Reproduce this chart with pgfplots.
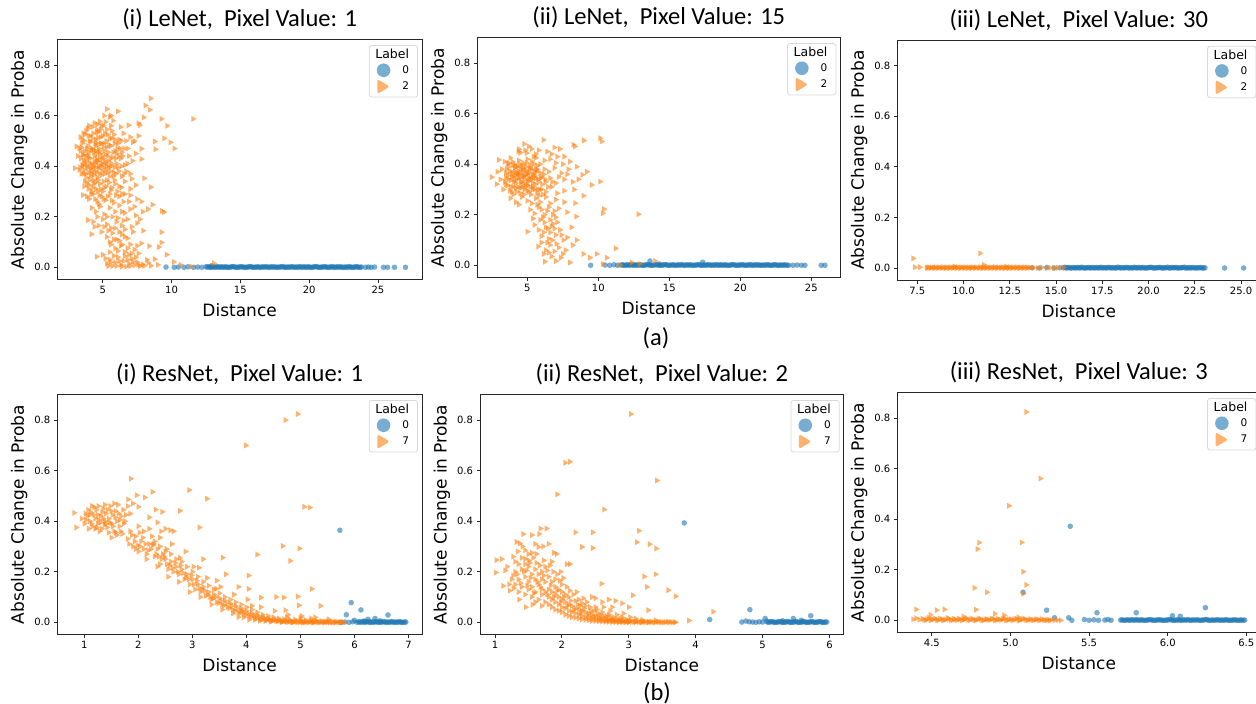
\documentclass[border=0pt]{standalone}
\usepackage{pgfplots}
\pgfplotsset{compat=1.18}
\usepackage{fontspec}
\setmainfont{DejaVu Sans}
\newfontfamily\calib{Carlito}
\definecolor{tabblue}{HTML}{1F77B4}
\definecolor{taborange}{HTML}{FF7F0E}

\pgfplotsset{
  panel/.style={
    scale only axis, height=239.5pt, anchor=south west,
    ymin=-0.0475, ymax=0.9,
    ytick={0,0.2,0.4,0.6,0.8}, yticklabels={0.0,0.2,0.4,0.6,0.8},
    tick align=outside, tick pos=left, major tick length=3.5pt,
    tick style={black!85, line width=0.8pt},
    axis line style={black!85, line width=1pt},
    ticklabel style={font=\fontsize{10}{12}\selectfont},
    xlabel={Distance}, ylabel={Absolute Change in Proba},
    label style={font=\fontsize{17}{20}\selectfont},
    xlabel style={yshift=-3pt},
    title style={font=\calib\fontsize{24.5}{28}\selectfont},
    legend cell align=right,
    legend style={at={(0.989,0.978)}, anchor=north east, draw=black!15,
      line width=0.8pt, rounded corners=2.5pt, fill=white, fill opacity=0.8,
      text opacity=1, font=\fontsize{10.5}{12}\selectfont,
      inner xsep=7.5pt, inner ysep=3pt, row sep=2pt, column sep=5pt,
      nodes={inner sep=1pt}},
  },
  blu/.style={only marks, mark=*, mark size=2.8pt,
    mark options={fill=tabblue, draw opacity=0, fill opacity=0.6},
    legend image code/.code={\path[fill=tabblue, fill opacity=0.6, draw=none] (6.8pt,0pt) circle (6.8pt);}},
  org/.style={only marks, mark=triangle*, mark size=3.5pt,
    mark options={rotate=-90, fill=taborange, draw opacity=0, fill opacity=0.6},
    legend image code/.code={\path[fill=taborange, fill opacity=0.6, draw=none] (0.5pt,-7.5pt) -- (13pt,0pt) -- (0.5pt,7.5pt) -- cycle;}},
}
\newcommand\labtitle{\addlegendimage{empty legend}\addlegendentry{\fontsize{12.5}{14}\selectfont\hspace*{-21pt}Label}}

\begin{document}
\begin{tikzpicture}
\path[use as bounding box] (0pt,0pt) rectangle (1256pt,-704pt);

% ---------------- (a) LeNet ----------------
\begin{axis}[panel, at={(57.3pt,-279.3pt)}, width=364.7pt, xmin=1.7, xmax=28.2,
  xtick={5,10,15,20,25}, xticklabels={5,10,15,20,25},
  title={(i) LeNet,\ \ Pixel Value: 1}]
\labtitle
\addplot[blu] coordinates {
(9.6,0.001)(10.2,0.0)(10.5,0.001)(10.9,0.0)(11.2,0.002)(11.6,0.0)(11.9,0.001)(12.2,0.0)(12.5,0.002)(12.9,0.006)
(12.6,0.001)(12.8,0)(13.0,0.002)(13.2,0)(13.4,0.001)(13.6,0.002)(13.8,0)(14.0,0.001)(14.2,0)(14.4,0.002)
(14.6,0.001)(14.8,0)(15.0,0.002)(15.2,0.001)(15.4,0)(15.6,0.001)(15.8,0.002)(16.0,0)(16.2,0.001)(16.4,0)
(16.6,0.002)(16.8,0.001)(17.0,0)(17.2,0.002)(17.4,0.001)(17.6,0)(17.8,0.001)(18.0,0.002)(18.2,0)(18.4,0.001)
(18.6,0)(18.8,0.002)(19.0,0.001)(19.2,0)(19.4,0.001)(19.6,0.002)(19.8,0)(20.0,0.001)(20.2,0)(20.4,0.002)
(20.6,0.001)(20.8,0)(21.0,0.001)(21.2,0.002)(21.4,0)(21.6,0.001)(21.8,0)(22.0,0.002)(22.2,0.001)(22.4,0)
(22.6,0.001)(22.8,0)(23.0,0.001)(23.2,0)(23.4,0.002)(23.6,0)(23.8,0.001)
(12.7,0.002)(12.9,0)(13.1,0.001)(13.3,0.003)(13.5,0)(13.7,0.001)(13.9,0.002)(14.1,0)(14.3,0.001)(14.5,0.003)
(14.7,0)(14.9,0.001)(15.1,0.002)(15.3,0)(15.5,0.001)(15.7,0.003)(15.9,0)(16.1,0.001)(16.3,0.002)(16.5,0)
(16.7,0.001)(16.9,0.003)(17.1,0)(17.3,0.001)(17.5,0.002)(17.7,0)(17.9,0.001)(18.1,0.003)(18.3,0)(18.5,0.001)
(18.7,0.002)(18.9,0)(19.1,0.001)(19.3,0.003)(19.5,0)(19.7,0.001)(19.9,0.002)(20.1,0)(20.3,0.001)(20.5,0.003)
(20.7,0)(20.9,0.001)(21.1,0.002)(21.3,0)(21.5,0.001)(21.7,0.003)(21.9,0)(22.1,0.001)(22.3,0.002)(22.5,0)
(22.7,0.001)(22.9,0.003)(23.1,0)(23.3,0.001)(23.5,0.002)(23.7,0)
(24.1,0.0)(24.3,0.001)(24.5,0.0)(24.75,0.001)(25.4,0.0)(25.7,0.0)(26.2,0.0)(27.0,0.0)
};
\addlegendentry{0}
\addplot[org] coordinates {
(5.3,0.626)(5.5,0.595)(6.1,0.617)(8.1,0.64)(8.42,0.623)(8.49,0.668)(7.98,0.593)(11.57,0.587)(9.26,0.587)(5.1,0.6)(5.6,0.6)
(4.78,0.577)(4.6,0.565)(4.9,0.56)(5.2,0.575)(4.4,0.57)(6.87,0.562)(7.69,0.562)(7.6,0.57)(9.68,0.56)(5.75,0.58)(6.3,0.555)(4.59,0.544)(3.9,0.55)
(3.38,0.515)(3.6,0.53)(3.8,0.54)(4.1,0.52)(4.3,0.53)(4.7,0.535)(5.0,0.52)(5.3,0.545)(5.5,0.51)(5.8,0.525)(6.2,0.505)(6.5,0.53)(7.0,0.515)(7.3,0.5)(7.6,0.52)(9.46,0.51)(9.92,0.494)(8.78,0.498)(4.5,0.505)(3.5,0.505)
(3.09,0.478)(3.3,0.47)(3.5,0.49)(3.7,0.46)(3.9,0.48)(4.1,0.495)(4.3,0.465)(4.5,0.48)(4.7,0.47)(4.9,0.49)(5.1,0.46)(5.3,0.475)(5.6,0.48)(5.9,0.46)(6.1,0.49)(6.4,0.455)(6.8,0.47)(7.2,0.495)(7.81,0.469)(8.83,0.467)(10.2,0.47)(4.0,0.455)(4.6,0.45)(5.4,0.455)
(3.2,0.44)(3.4,0.43)(3.6,0.445)(3.8,0.42)(4.0,0.435)(4.2,0.41)(4.4,0.44)(4.6,0.42)(4.8,0.43)(5.0,0.41)(5.2,0.445)(5.4,0.42)(5.7,0.435)(6.0,0.41)(6.3,0.43)(6.6,0.405)(7.16,0.421)(7.81,0.428)(3.5,0.405)(4.3,0.4)(5.6,0.4)
(2.97,0.392)(3.3,0.385)(3.6,0.37)(3.9,0.395)(4.1,0.36)(4.4,0.38)(4.7,0.39)(4.9,0.365)(5.2,0.385)(5.5,0.36)(5.8,0.375)(6.1,0.395)(6.4,0.36)(6.7,0.38)(7.0,0.37)(8.0,0.352)(4.6,0.355)(3.8,0.355)
(3.7,0.34)(4.0,0.325)(4.3,0.345)(4.5,0.31)(4.8,0.33)(5.1,0.315)(5.3,0.345)(5.6,0.305)(5.9,0.33)(6.2,0.32)(6.6,0.34)(7.0,0.31)(7.4,0.325)(8.49,0.317)(4.2,0.3)(5.0,0.3)
(3.55,0.286)(4.0,0.27)(4.3,0.29)(4.6,0.26)(4.9,0.28)(5.2,0.265)(5.5,0.29)(5.8,0.255)(6.2,0.28)(6.5,0.26)(7.0,0.285)(7.5,0.27)(7.8,0.26)(8.61,0.248)(4.7,0.25)
(4.2,0.235)(4.5,0.22)(4.8,0.24)(5.1,0.21)(5.5,0.235)(5.9,0.22)(6.2,0.245)(6.6,0.215)(7.0,0.23)(7.4,0.205)(7.9,0.22)(8.29,0.23)(9.29,0.223)(9.45,0.218)(5.3,0.2)
(3.93,0.187)(4.3,0.18)(4.7,0.165)(5.0,0.19)(5.3,0.17)(5.6,0.155)(6.0,0.18)(6.4,0.165)(6.8,0.19)(7.1,0.16)(7.5,0.175)(6.6,0.15)
(4.18,0.131)(4.9,0.14)(5.3,0.12)(5.7,0.135)(6.0,0.11)(6.4,0.13)(6.8,0.115)(7.2,0.14)(7.93,0.145)(9.26,0.139)(5.5,0.1)(6.2,0.105)
(5.6,0.09)(5.9,0.075)(6.3,0.085)(6.6,0.06)(7.0,0.09)(7.3,0.07)(7.6,0.055)(8.37,0.084)(9.26,0.098)(9.07,0.08)(6.9,0.05)(7.8,0.095)(9.65,0.05)
(4.56,0.042)(5.3,0.015)(5.5,0.03)(5.7,0.005)(5.9,0.02)(6.1,0.04)(6.3,0.01)(6.5,0.025)(6.7,0.003)(6.9,0.015)(7.1,0.035)(7.3,0.008)(7.5,0.02)(7.7,0.004)(7.9,0.012)(8.2,0.03)(8.5,0.006)(8.78,0.032)(9.0,0.01)(10.16,0.021)(10.67,0.009)(11.44,0.003)(13.07,0.016)(5.8,0.045)(6.6,0.045)(7.4,0.04)
(4.2,0.47)(4.5,0.46)(4.8,0.45)(4.4,0.42)(4.7,0.4)(5.0,0.43)(4.1,0.39)(4.5,0.395)(4.9,0.41)(3.7,0.41)(3.9,0.445)(4.6,0.49)(5.3,0.4)(4.2,0.37)(5.1,0.49)(3.4,0.46)(3.6,0.42)(4.05,0.5)(4.85,0.515)(5.15,0.53)(5.6,0.56)(5.9,0.505)(6.0,0.45)(6.25,0.47)(6.45,0.44)(4.35,0.33)(4.65,0.3)(3.95,0.31)
(3.45,0.475)(3.55,0.445)(3.65,0.5)(3.75,0.435)(3.85,0.47)(3.95,0.52)(4.05,0.43)(4.15,0.465)(4.25,0.51)(4.35,0.455)(4.45,0.49)(4.55,0.43)(4.65,0.515)(4.75,0.46)(4.85,0.49)(4.95,0.44)(5.05,0.475)(5.15,0.42)(5.25,0.5)(5.35,0.44)(5.45,0.485)(5.55,0.43)(5.65,0.51)(5.75,0.455)(5.85,0.49)(5.95,0.43)(6.05,0.47)(6.15,0.44)(6.35,0.5)(6.55,0.47)
(3.35,0.395)(3.45,0.37)(3.55,0.4)(3.65,0.385)(3.75,0.37)(3.85,0.4)(3.95,0.375)(4.05,0.41)(4.15,0.38)(4.25,0.395)(4.35,0.365)(4.45,0.41)(4.55,0.375)(4.65,0.42)(4.75,0.37)(4.85,0.4)(4.95,0.38)(5.05,0.395)(5.15,0.37)(5.25,0.41)(5.35,0.375)(5.45,0.395)(5.55,0.38)(5.65,0.41)(5.75,0.36)(5.85,0.395)(5.95,0.37)(6.15,0.38)(6.35,0.4)(6.55,0.37)
(3.65,0.32)(3.85,0.33)(4.05,0.345)(4.25,0.315)(4.45,0.335)(4.65,0.345)(4.85,0.31)(5.05,0.34)(5.25,0.32)(5.45,0.335)(5.65,0.315)(5.85,0.345)(6.05,0.3)(6.35,0.315)(3.85,0.28)(4.15,0.29)(4.45,0.27)(4.75,0.285)(5.05,0.27)(5.35,0.28)(5.65,0.265)(5.95,0.285)(6.4,0.29)
(4.25,0.555)(4.55,0.535)(4.85,0.545)(5.05,0.56)(5.35,0.525)(5.65,0.54)(3.7,0.525)(4.0,0.56)(6.7,0.5)(6.9,0.44)(6.8,0.41)(7.4,0.45)(7.1,0.35)(6.6,0.29)(6.9,0.26)(7.3,0.24)(6.4,0.22)(5.7,0.2)(6.1,0.195)(6.5,0.185)(7.7,0.19)(5.9,0.155)(6.2,0.14)(6.6,0.12)(5.4,0.145)(5.1,0.16)(4.6,0.2)(4.4,0.16)(5.8,0.11)(6.4,0.09)(6.1,0.065)(5.5,0.06)(6.8,0.075)(7.1,0.055)(7.5,0.085)(5.4,0.005)(5.6,0.02)(6.0,0.005)(6.2,0.025)(6.4,0.003)(6.8,0.03)(7.0,0.005)(7.2,0.022)(7.6,0.01)(8.0,0.005)(8.3,0.018)(5.2,0.035)(5.0,0.05)
};
\addlegendentry{2}
\end{axis}

\begin{axis}[panel, at={(477.3pt,-277.3pt)}, width=363pt, xmin=1.48, xmax=27.04,
  xtick={5,10,15,20,25}, xticklabels={5,10,15,20,25},
  title={(ii) LeNet,\ \ Pixel Value: 15}]
\labtitle
\addplot[blu] coordinates {
(9.46,0.0)(10.47,0.001)(10.8,0.0)(11.1,0.002)(11.35,0.0)(13.64,0.017)(17.35,0.012)(14.3,0.005)
(11.6,0.001)(11.8,0)(12.0,0.002)(12.2,0)(12.4,0.001)(12.6,0.002)(12.8,0)(13.0,0.001)(13.2,0)(13.4,0.002)
(13.6,0.001)(13.8,0)(14.0,0.002)(14.2,0.001)(14.4,0)(14.6,0.001)(14.8,0.002)(15.0,0)(15.2,0.001)(15.4,0)
(15.6,0.002)(15.8,0.001)(16.0,0)(16.2,0.002)(16.4,0.001)(16.6,0)(16.8,0.001)(17.0,0.002)(17.2,0)(17.4,0.001)
(17.6,0)(17.8,0.002)(18.0,0.001)(18.2,0)(18.4,0.001)(18.6,0.002)(18.8,0)(19.0,0.001)(19.2,0)(19.4,0.002)
(19.6,0.001)(19.8,0)(20.0,0.001)(20.2,0.002)(20.4,0)(20.6,0.001)(20.8,0)(21.0,0.002)(21.2,0.001)(21.4,0)
(21.6,0.001)(21.8,0)(22.0,0.001)(22.2,0)(22.4,0.002)(22.6,0)(22.8,0.001)(23.0,0)(23.2,0.001)(23.4,0)
(11.7,0.002)(11.9,0)(12.1,0.001)(12.3,0.003)(12.5,0)(12.7,0.001)(12.9,0.002)(13.1,0)(13.3,0.001)(13.5,0.003)
(13.7,0)(13.9,0.001)(14.1,0.002)(14.3,0)(14.5,0.001)(14.7,0.003)(14.9,0)(15.1,0.001)(15.3,0.002)(15.5,0)
(15.7,0.001)(15.9,0.003)(16.1,0)(16.3,0.001)(16.5,0.002)(16.7,0)(16.9,0.001)(17.1,0.003)(17.3,0)(17.5,0.001)
(17.7,0.002)(17.9,0)(18.1,0.001)(18.3,0.003)(18.5,0)(18.7,0.001)(18.9,0.002)(19.1,0)(19.3,0.001)(19.5,0.003)
(19.7,0)(19.9,0.001)(20.1,0.002)(20.3,0)(20.5,0.001)(20.7,0.003)(20.9,0)(21.1,0.001)(21.3,0.002)(21.5,0)
(21.7,0.001)(21.9,0.003)(22.1,0)(22.3,0.001)(22.5,0.002)(22.7,0)(22.9,0.001)(23.1,0.002)(23.3,0)
(23.7,0.0)(24.0,0.001)(24.3,0.0)(24.55,0.0)(25.7,0.0)(25.96,0.0)
};
\addlegendentry{0}
\addplot[org] coordinates {
(10.12,0.503)(10.23,0.49)(8.99,0.494)(8.24,0.477)(8.35,0.47)(6.13,0.496)(4.77,0.48)(4.37,0.45)(4.95,0.444)(6.9,0.466)(7.3,0.46)(5.1,0.47)(5.3,0.46)(6.4,0.45)(5.8,0.455)(4.5,0.445)(5.6,0.44)(7.1,0.43)
(3.0,0.417)(3.4,0.41)(3.8,0.425)(4.1,0.4)(4.4,0.415)(4.7,0.405)(5.0,0.42)(5.3,0.41)(5.6,0.425)(5.9,0.4)(6.2,0.415)(6.6,0.42)(7.0,0.405)(7.5,0.4)(8.0,0.41)(8.47,0.39)(3.6,0.4)
(2.9,0.37)(3.2,0.38)(3.5,0.365)(3.7,0.39)(3.9,0.37)(4.1,0.385)(4.3,0.365)(4.5,0.38)(4.7,0.37)(4.9,0.39)(5.1,0.365)(5.3,0.38)(5.5,0.37)(5.7,0.395)(5.9,0.365)(6.2,0.38)(6.5,0.37)(6.9,0.385)(7.4,0.365)(7.9,0.38)(8.87,0.358)(9.2,0.37)(4.0,0.395)(4.6,0.395)(5.2,0.395)
(2.49,0.349)(2.84,0.321)(3.1,0.34)(3.4,0.33)(3.6,0.355)(3.8,0.335)(4.0,0.35)(4.2,0.325)(4.4,0.345)(4.6,0.33)(4.8,0.355)(5.0,0.335)(5.2,0.35)(5.4,0.325)(5.6,0.345)(5.8,0.33)(6.0,0.35)(6.3,0.33)(6.6,0.345)(7.0,0.325)(7.6,0.34)(8.2,0.33)(9.53,0.318)(10.12,0.331)(4.3,0.36)(4.9,0.32)(5.5,0.355)
(3.3,0.3)(3.6,0.315)(3.9,0.29)(4.2,0.305)(4.5,0.285)(4.8,0.3)(5.1,0.29)(5.4,0.31)(5.7,0.285)(6.0,0.3)(6.3,0.29)(6.7,0.31)(7.1,0.285)(7.6,0.295)(8.3,0.3)(8.94,0.275)(4.0,0.28)(5.0,0.315)
(3.8,0.265)(4.2,0.25)(4.6,0.27)(5.0,0.255)(5.3,0.245)(5.6,0.265)(5.9,0.25)(6.3,0.27)(6.6,0.245)(7.0,0.26)(7.6,0.25)(8.36,0.246)(4.4,0.24)(5.8,0.275)
(5.2,0.22)(5.5,0.205)(5.8,0.23)(6.1,0.19)(6.4,0.215)(6.8,0.2)(7.2,0.225)(7.8,0.21)(8.43,0.193)(10.4,0.222)(10.31,0.206)(12.82,0.202)(5.4,0.185)(6.6,0.18)(7.0,0.19)
(5.0,0.133)(5.5,0.16)(5.8,0.14)(6.0,0.115)(6.3,0.15)(6.6,0.13)(6.8,0.165)(7.0,0.12)(7.3,0.14)(7.8,0.11)(8.1,0.15)(7.54,0.1)(8.47,0.1)(6.5,0.105)(6.9,0.145)
(5.77,0.074)(6.0,0.09)(6.3,0.06)(6.6,0.08)(6.9,0.055)(7.2,0.07)(7.5,0.045)(6.24,0.0145)(7.02,0.017)(8.0,0.011)(8.94,0.045)(9.41,0.03)(9.88,0.045)(10.59,0.03)(11.22,0.067)(11.53,0.001)(12.35,0.011)(14.0,0.017)(6.7,0.035)(8.2,0.08)(10.3,0.005)(12.9,0.005)
(4.2,0.36)(4.5,0.35)(4.8,0.34)(5.1,0.345)(4.4,0.37)(4.7,0.355)(5.0,0.365)(4.6,0.31)(5.3,0.34)(3.9,0.35)(5.6,0.38)(4.1,0.34)(4.9,0.375)(5.4,0.36)(4.3,0.39)(3.5,0.345)(4.7,0.32)(5.2,0.31)
(3.55,0.38)(3.65,0.34)(3.75,0.37)(3.85,0.31)(3.95,0.36)(4.05,0.33)(4.15,0.37)(4.25,0.34)(4.35,0.31)(4.45,0.36)(4.55,0.33)(4.65,0.38)(4.75,0.35)(4.85,0.31)(4.95,0.36)(5.05,0.33)(5.15,0.38)(5.25,0.34)(5.35,0.3)(5.45,0.35)(5.55,0.32)(5.65,0.37)(5.75,0.34)(5.85,0.3)(5.95,0.345)(6.05,0.32)(6.15,0.36)(6.25,0.34)
(3.7,0.405)(3.95,0.41)(4.2,0.39)(4.45,0.4)(4.7,0.385)(4.95,0.405)(5.2,0.385)(5.45,0.4)(5.7,0.38)(3.5,0.32)(3.75,0.295)(4.0,0.31)(4.25,0.29)(4.5,0.305)(4.75,0.28)(5.0,0.295)(5.25,0.28)(5.5,0.3)(5.75,0.3)(6.1,0.28)(6.45,0.31)(6.75,0.33)(7.2,0.35)(7.8,0.36)(8.6,0.34)
(4.4,0.46)(4.85,0.455)(5.45,0.43)(6.7,0.44)(7.6,0.43)(5.7,0.24)(6.0,0.22)(6.2,0.2)(6.5,0.23)(6.9,0.215)(5.9,0.18)(6.2,0.17)(6.45,0.145)(6.7,0.155)(7.1,0.17)(7.4,0.12)(6.15,0.13)(6.4,0.09)(6.75,0.1)(7.05,0.085)(6.15,0.045)(6.5,0.05)(7.35,0.03)(7.7,0.06)
};
\addlegendentry{2}
\end{axis}

\begin{axis}[panel, at={(897.3pt,-280pt)}, width=363pt, xmin=6.42, xmax=26.04,
  xtick={7.5,10,12.5,15,17.5,20,22.5,25}, xticklabels={7.5,10.0,12.5,15.0,17.5,20.0,22.5,25.0},
  title={(iii) LeNet,\ \ Pixel Value: 30}]
\labtitle
\addplot[blu] coordinates {
(13.7,0.001)(14.1,0.0)(14.5,0.002)(14.9,0.0)(15.2,0.001)
(15.4,0.001)(15.55,0)(15.7,0.002)(15.85,0)(16.0,0.001)(16.15,0.002)(16.3,0)(16.45,0.001)(16.6,0)(16.75,0.002)
(16.9,0.001)(17.05,0)(17.2,0.002)(17.35,0.001)(17.5,0)(17.65,0.001)(17.8,0.002)(17.95,0)(18.1,0.001)(18.25,0)
(18.4,0.002)(18.55,0.001)(18.7,0)(18.85,0.002)(19.0,0.001)(19.15,0)(19.3,0.001)(19.45,0.002)(19.6,0)(19.75,0.001)
(19.9,0)(20.05,0.002)(20.2,0.001)(20.35,0)(20.5,0.001)(20.65,0.002)(20.8,0)(20.95,0.001)(21.1,0)(21.25,0.002)
(21.4,0.001)(21.55,0)(21.7,0.001)(21.85,0.002)(22.0,0)(22.15,0.001)(22.3,0)(22.45,0.001)(22.6,0)(22.75,0.001)
(22.9,0)(23.05,0.001)
(15.48,0.003)(15.63,0.001)(15.78,0)(15.93,0.002)(16.08,0)(16.23,0.001)(16.38,0.003)(16.53,0)(16.68,0.001)(16.83,0)
(16.98,0.002)(17.13,0.001)(17.28,0)(17.43,0.003)(17.58,0.001)(17.73,0)(17.88,0.002)(18.03,0.001)(18.18,0)(18.33,0.003)
(18.48,0)(18.63,0.001)(18.78,0.002)(18.93,0)(19.08,0.001)(19.23,0.003)(19.38,0)(19.53,0.001)(19.68,0.002)(19.83,0)
(19.98,0.001)(20.13,0.003)(20.28,0)(20.43,0.001)(20.58,0.002)(20.73,0)(20.88,0.001)(21.03,0.003)(21.18,0)(21.33,0.001)
(21.48,0.002)(21.63,0)(21.78,0.001)(21.93,0.003)(22.08,0)(22.23,0.001)(22.38,0.002)(22.53,0)(22.68,0.001)(22.83,0.002)(22.98,0)
(24.11,0.0)(25.14,0.0)
};
\addlegendentry{0}
\addplot[org] coordinates {
(7.28,0.038)(10.89,0.058)(7.37,0.003)(7.64,0.003)(11.1,0.012)(9.5,0.006)(12.3,0.005)
(8.0,0.001)(8.1,0.003)(8.2,0)(8.3,0.002)(8.4,0.001)(8.5,0.003)(8.6,0)(8.7,0.002)(8.8,0.001)(8.9,0.003)
(9.0,0)(9.1,0.002)(9.2,0.001)(9.3,0.003)(9.4,0)(9.5,0.002)(9.6,0.001)(9.7,0.003)(9.8,0)(9.9,0.002)
(10.0,0.001)(10.1,0.003)(10.2,0)(10.3,0.002)(10.4,0.001)(10.5,0.003)(10.6,0)(10.7,0.002)(10.8,0.001)(10.9,0.003)
(11.0,0)(11.1,0.002)(11.2,0.001)(11.3,0.003)(11.4,0)(11.5,0.002)(11.6,0.001)(11.7,0.003)(11.8,0)(11.9,0.002)
(12.0,0.001)(12.1,0.003)(12.2,0)(12.3,0.002)(12.4,0.001)(12.5,0.003)(12.6,0)(12.7,0.002)(12.8,0.001)(12.9,0.003)
(13.0,0)(13.1,0.002)(13.2,0.001)(13.3,0.003)(13.4,0)(13.5,0.002)(13.6,0.001)
(8.05,0)(8.25,0.001)(8.45,0)(8.65,0.001)(8.85,0)(9.05,0.001)(9.25,0)(9.45,0.001)(9.65,0)(9.85,0.001)
(10.05,0)(10.25,0.001)(10.45,0)(10.65,0.001)(10.85,0)(11.05,0.001)(11.25,0)(11.45,0.001)(11.65,0)(11.85,0.001)
(12.05,0)(12.25,0.001)(12.45,0)(12.65,0.001)(12.85,0)(13.05,0.001)(13.25,0)(13.45,0.001)
(13.8,0.001)(14.0,0)(14.25,0.002)(14.5,0.0)(14.7,0.001)(14.9,0)(15.1,0.001)(15.4,0.002)
};
\addlegendentry{2}
\end{axis}

% ---------------- (b) ResNet ----------------
\begin{axis}[panel, at={(57.3pt,-634.3pt)}, width=364.7pt, xmin=0.5, xmax=7.25,
  xtick={1,2,3,4,5,6,7}, xticklabels={1,2,3,4,5,6,7},
  title={(i) ResNet,\ \ Pixel Value: 1}]
\labtitle
\addplot[blu] coordinates {
(5.73,0.364)(5.94,0.078)(6.12,0.049)(5.85,0.03)(6.62,0.029)(6.38,0.015)(6.25,0.012)(6.0,0.008)
(5.75,0.0)(5.82,0.001)(5.9,0.0)(5.97,0.002)(6.05,0.0)(6.1,0.001)(6.15,0.003)(6.2,0.0)(6.25,0.002)(6.3,0.001)
(6.35,0.0)(6.4,0.002)(6.45,0.001)(6.5,0.0)(6.55,0.002)(6.6,0.001)(6.65,0.0)(6.7,0.002)(6.75,0.001)(6.8,0.0)
(6.85,0.001)(6.9,0.0)(6.95,0.001)(6.47,0.006)(6.18,0.005)
(6.08,0.002)(6.13,0)(6.18,0.001)(6.23,0.003)(6.28,0)(6.33,0.001)(6.38,0.002)(6.43,0)(6.48,0.001)(6.53,0.003)
(6.58,0)(6.63,0.001)(6.68,0.002)(6.73,0)(6.78,0.001)(6.83,0.003)(6.88,0)(6.93,0.001)
};
\addlegendentry{0}
\addplot[org] coordinates {
(0.95,0.41)(1.0,0.39)(1.05,0.42)(1.1,0.4)(1.12,0.435)(1.15,0.38)(1.2,0.41)(1.22,0.445)(1.25,0.39)(1.3,0.42)
(1.32,0.37)(1.35,0.45)(1.38,0.4)(1.4,0.43)(1.42,0.375)(1.45,0.41)(1.48,0.46)(1.5,0.39)(1.52,0.425)(1.55,0.36)
(1.58,0.44)(1.6,0.4)(1.62,0.465)(1.65,0.38)(1.68,0.42)(1.7,0.35)(1.72,0.445)(1.75,0.4)(1.08,0.37)(1.18,0.455)
(1.28,0.36)(1.45,0.355)(1.55,0.47)(1.02,0.43)(1.35,0.41)(1.25,0.425)(1.4,0.39)(1.6,0.345)(1.5,0.335)(1.8,0.46)(1.85,0.43)(1.9,0.47)
(1.8,0.33)(1.85,0.36)(1.9,0.3)(1.95,0.34)(2.0,0.28)(2.05,0.32)(2.1,0.36)(2.15,0.27)(2.2,0.31)(2.25,0.34)
(2.3,0.26)(2.35,0.29)(2.4,0.23)(2.45,0.27)(2.5,0.25)(2.55,0.21)(2.6,0.24)(2.65,0.2)(2.7,0.22)(2.75,0.19)
(2.8,0.21)(2.85,0.17)(2.9,0.19)(2.95,0.15)(3.0,0.17)(3.05,0.13)(3.1,0.15)(3.15,0.12)(3.2,0.14)(3.25,0.105)
(3.3,0.12)(3.35,0.09)(3.4,0.11)(3.45,0.08)(3.5,0.095)(3.55,0.07)(3.6,0.085)(3.65,0.06)(3.7,0.075)(3.75,0.05)
(3.8,0.065)(3.85,0.04)(3.9,0.055)(3.95,0.035)(4.0,0.045)(4.05,0.025)(4.1,0.035)(4.15,0.02)(4.2,0.028)(4.25,0.014)
(4.3,0.02)(4.35,0.01)(4.4,0.015)(4.45,0.007)(4.5,0.011)(4.55,0.005)(4.6,0.008)(4.65,0.003)(4.7,0.006)(4.75,0.002)
(4.8,0.004)(4.85,0.001)(4.9,0.003)(4.95,0.001)(5.0,0.002)(5.05,0.001)(5.1,0.002)(5.15,0.0)(5.2,0.001)(5.25,0.0)
(5.3,0.001)(5.35,0.0)(5.4,0.001)(5.45,0.0)(5.5,0.001)(5.55,0.0)(5.6,0.0)(5.65,0.0)(5.7,0.0)(5.75,0.0)
(2.0,0.38)(2.1,0.29)(2.2,0.37)(2.3,0.32)(2.4,0.3)(2.5,0.28)(2.6,0.27)(2.7,0.25)(2.8,0.24)(2.9,0.22)
(3.0,0.2)(3.1,0.18)(3.2,0.16)(3.3,0.145)(3.4,0.13)(3.5,0.115)(3.6,0.1)(3.7,0.09)(3.8,0.08)(3.9,0.07)
(4.0,0.06)(4.1,0.05)(4.2,0.04)(4.3,0.03)(4.4,0.025)(4.5,0.02)(4.6,0.015)(4.7,0.012)(4.8,0.01)(5.0,0.008)
(5.2,0.006)(5.4,0.004)(2.55,0.18)(2.75,0.16)(2.95,0.12)(3.15,0.1)(3.35,0.07)(3.55,0.05)(3.75,0.035)(3.95,0.02)
(4.15,0.01)(4.35,0.005)(2.35,0.22)(2.15,0.25)(1.95,0.29)
(4.05,0.01)(4.25,0.006)(4.45,0.003)(4.65,0.001)(4.85,0.0)(5.05,0.0)(5.25,0.002)(5.45,0.002)(5.65,0.001)(5.8,0.0)
(4.9,0.012)(5.1,0.008)(5.3,0.006)(5.5,0.004)(5.2,0.015)(5.0,0.018)(4.75,0.02)(3.9,0.045)(4.1,0.065)(3.85,0.02)
(1.03,0.405)(1.07,0.445)(1.13,0.39)(1.17,0.425)(1.23,0.375)(1.27,0.405)(1.33,0.435)(1.37,0.385)(1.43,0.445)(1.47,0.395)
(1.53,0.38)(1.57,0.415)(1.63,0.43)(1.67,0.36)(1.73,0.39)(1.77,0.425)(1.14,0.46)(1.26,0.46)(1.38,0.465)(1.3,0.395)
(1.2,0.37)(1.1,0.425)(1.58,0.355)(1.66,0.405)(1.5,0.44)
(1.83,0.31)(1.88,0.345)(1.93,0.32)(1.98,0.305)(2.03,0.3)(2.08,0.335)(2.13,0.31)(2.18,0.285)(2.23,0.29)(2.28,0.31)
(2.33,0.27)(2.38,0.26)(2.43,0.25)(2.48,0.26)(2.53,0.23)(2.58,0.225)(2.63,0.215)(2.68,0.235)(2.73,0.2)(2.78,0.225)
(2.83,0.195)(2.88,0.18)(2.93,0.17)(2.98,0.185)(3.03,0.15)(3.08,0.165)(3.13,0.135)(3.18,0.13)(3.23,0.125)(3.28,0.11)
(3.33,0.1)(3.38,0.095)(3.43,0.1)(3.48,0.075)(3.53,0.085)(3.58,0.065)(3.63,0.075)(3.68,0.055)(3.73,0.065)(3.78,0.045)
(3.83,0.055)(3.88,0.035)(3.93,0.045)(3.98,0.028)(4.03,0.035)(4.08,0.02)(4.13,0.028)(4.18,0.015)(4.23,0.022)(4.28,0.01)
(4.33,0.016)(4.38,0.008)(4.43,0.012)(4.48,0.005)(4.53,0.009)(4.58,0.004)(4.63,0.006)(4.68,0.002)(4.73,0.004)(4.78,0.001)
(4.83,0.003)(4.88,0.001)(4.93,0.002)(4.98,0.0)(5.03,0.002)(5.08,0.0)(5.13,0.001)(5.18,0.003)(5.23,0.0)(5.28,0.002)
(5.33,0.0)(5.38,0.002)(5.43,0.0)(5.48,0.001)(5.53,0.0)(5.58,0.001)(5.63,0.0)(5.68,0.001)(5.73,0.0)(5.78,0.001)
(2.02,0.355)(2.27,0.305)(2.52,0.29)(2.77,0.255)(3.02,0.22)(3.27,0.175)(3.52,0.14)(3.77,0.11)(4.02,0.09)(4.27,0.06)
(4.52,0.045)(4.77,0.03)(5.02,0.025)(5.27,0.02)(5.52,0.012)(2.62,0.31)(2.87,0.28)(2.42,0.36)(3.2,0.25)(3.62,0.19)(3.45,0.165)(3.85,0.14)
(4.95,0.824)(4.72,0.8)(3.99,0.7)(1.86,0.568)(2.94,0.523)(3.27,0.489)(2.26,0.516)(2.77,0.441)(5.07,0.457)(5.17,0.454)
(3.13,0.375)(0.81,0.433)(0.85,0.375)(2.59,0.364)(4.67,0.302)(4.98,0.292)(4.2,0.268)(4.81,0.243)(3.56,0.256)(3.12,0.216)
(4.04,0.185)(4.04,0.132)(5.21,0.132)(4.27,0.098)(4.55,0.1)(4.69,0.098)(4.95,0.102)(4.97,0.067)(4.72,0.048)(5.37,0.065)
(3.44,0.133)(1.97,0.503)(2.12,0.494)(1.81,0.486)(2.0,0.457)(2.32,0.446)(2.44,0.437)(2.2,0.415)(2.35,0.395)(2.5,0.37)
(2.65,0.36)(2.4,0.335)
};
\addlegendentry{7}
\end{axis}

\begin{axis}[panel, at={(480pt,-634.3pt)}, width=363.7pt, xmin=0.776, xmax=6.213,
  xtick={1,2,3,4,5,6}, xticklabels={1,2,3,4,5,6},
  title={(ii) ResNet,\ \ Pixel Value: 2}]
\labtitle
\addplot[blu] coordinates {
(3.83,0.393)(4.21,0.011)(4.69,0.001)(4.81,0.05)(4.75,0.005)(4.8,0.002)(4.85,0.001)(4.9,0.0)(4.95,0.002)(5.0,0.001)
(5.04,0.015)(5.06,0.004)(5.46,0.015)(5.72,0.026)(5.3,0.006)(5.58,0.008)
(5.08,0.0)(5.12,0.002)(5.16,0.001)(5.2,0.0)(5.24,0.002)(5.28,0.001)(5.32,0.0)(5.36,0.002)(5.4,0.001)(5.44,0.0)
(5.48,0.002)(5.52,0.001)(5.56,0.0)(5.6,0.002)(5.64,0.001)(5.68,0.0)(5.72,0.002)(5.76,0.001)(5.8,0.0)(5.84,0.002)
(5.88,0.001)(5.92,0.0)(5.96,0.001)
(5.1,0.001)(5.14,0.003)(5.18,0)(5.22,0.001)(5.26,0.003)(5.3,0)(5.34,0.001)(5.38,0.003)(5.42,0)(5.46,0.001)
(5.5,0.003)(5.54,0)(5.58,0.001)(5.62,0.003)(5.66,0)(5.7,0.001)(5.74,0.003)(5.78,0)(5.82,0.001)(5.86,0.003)(5.9,0)(5.94,0.001)
};
\addlegendentry{0}
\addplot[org] coordinates {
(3.03,0.824)(2.05,0.631)(2.12,0.635)(3.42,0.561)(1.93,0.506)(2.63,0.446)(3.15,0.362)(2.46,0.356)(2.2,0.356)(3.12,0.317)
(3.31,0.309)(3.41,0.292)(2.3,0.298)(2.46,0.294)(1.88,0.275)(2.07,0.23)(2.12,0.23)(3.4,0.19)(3.23,0.181)(2.59,0.153)
(3.27,0.14)(3.59,0.127)(3.7,0.103)(3.06,0.107)(3.29,0.048)(3.9,0.007)(4.26,0.042)(1.02,0.246)(1.01,0.197)(1.12,0.144)
(1.21,0.15)(1.66,0.349)(1.68,0.371)(1.77,0.371)(1.42,0.349)(1.55,0.345)(1.32,0.318)(1.37,0.312)(1.65,0.298)(1.1,0.25)
(1.18,0.22)(1.15,0.205)(1.27,0.185)(1.3,0.24)(1.35,0.23)(1.45,0.25)(1.5,0.27)(1.45,0.285)(1.55,0.275)(1.6,0.31)
(1.72,0.3)(1.8,0.31)(1.85,0.24)(1.92,0.27)(1.98,0.2)(1.62,0.235)(2.7,0.09)(2.8,0.085)(2.6,0.08)(2.9,0.075)
(2.5,0.095)(2.45,0.1)(3.0,0.06)(2.75,0.06)
(1.25,0.17)(1.3,0.15)(1.3,0.2)(1.35,0.12)(1.35,0.17)(1.4,0.14)(1.4,0.21)(1.45,0.11)(1.45,0.18)(1.5,0.13)
(1.5,0.22)(1.5,0.16)(1.4,0.255)(1.45,0.23)(1.5,0.245)(1.55,0.19)
(1.55,0.1)(1.55,0.14)(1.6,0.12)(1.6,0.17)(1.6,0.21)(1.65,0.09)(1.65,0.15)(1.65,0.19)(1.7,0.11)(1.7,0.13)
(1.7,0.17)(1.7,0.2)(1.75,0.08)(1.75,0.12)(1.75,0.16)(1.8,0.07)(1.8,0.1)(1.8,0.13)(1.8,0.18)(1.6,0.08)(1.7,0.065)(1.75,0.22)
(1.85,0.06)(1.85,0.09)(1.85,0.12)(1.85,0.16)(1.9,0.05)(1.9,0.08)(1.9,0.11)(1.9,0.14)(1.95,0.045)(1.95,0.07)
(1.95,0.1)(1.95,0.13)(2.0,0.04)(2.0,0.06)(2.0,0.09)(2.0,0.12)(2.05,0.03)(2.05,0.055)(2.05,0.08)(2.05,0.11)
(2.1,0.025)(2.1,0.045)(2.1,0.07)(2.1,0.1)(1.9,0.17)(2.0,0.15)
(2.15,0.02)(2.15,0.04)(2.15,0.065)(2.2,0.018)(2.2,0.035)(2.2,0.055)(2.2,0.085)(2.25,0.015)(2.25,0.03)(2.25,0.05)
(2.3,0.012)(2.3,0.025)(2.3,0.045)(2.3,0.075)(2.35,0.01)(2.35,0.02)(2.35,0.04)(2.4,0.008)(2.4,0.018)(2.4,0.035)
(2.45,0.006)(2.45,0.015)(2.45,0.03)(2.5,0.005)(2.5,0.012)(2.5,0.025)(2.5,0.06)(2.25,0.09)(2.35,0.065)
(2.55,0.004)(2.55,0.01)(2.55,0.02)(2.6,0.003)(2.6,0.008)(2.6,0.018)(2.65,0.002)(2.65,0.007)(2.65,0.015)(2.7,0.002)
(2.7,0.006)(2.7,0.012)(2.75,0.001)(2.75,0.005)(2.75,0.01)(2.8,0.001)(2.8,0.004)(2.8,0.009)(2.85,0.0)(2.85,0.003)
(2.85,0.007)(2.9,0.0)(2.9,0.003)(2.9,0.006)(2.95,0.0)(2.95,0.002)(3.0,0.0)(3.0,0.002)(3.0,0.005)(2.7,0.03)(2.9,0.02)(2.6,0.04)
(3.05,0.001)(3.1,0.0)(3.1,0.003)(3.15,0.001)(3.2,0.0)(3.2,0.002)(3.25,0.001)(3.3,0.0)(3.3,0.002)(3.35,0.001)
(3.4,0.0)(3.45,0.001)(3.5,0.0)(3.55,0.001)(3.6,0.0)(3.65,0.0)(3.7,0.0)(3.2,0.01)(3.4,0.008)(3.1,0.015)
(1.28,0.135)(1.33,0.19)(1.38,0.155)(1.43,0.2)(1.48,0.145)(1.53,0.175)(1.58,0.115)(1.63,0.16)(1.68,0.14)(1.73,0.185)
(1.78,0.11)(1.83,0.145)(1.88,0.1)(1.93,0.125)(1.98,0.08)(2.03,0.1)(2.08,0.065)(2.13,0.085)(2.18,0.05)(2.23,0.07)
(2.28,0.038)(2.33,0.055)(2.38,0.028)(2.43,0.045)(2.48,0.02)(2.53,0.035)(2.58,0.014)(2.63,0.025)(2.68,0.01)(2.73,0.018)
(2.78,0.007)(2.83,0.012)(2.88,0.005)(2.93,0.009)(2.98,0.004)(3.03,0.006)(3.08,0.002)(3.13,0.004)(3.18,0.001)(3.23,0.003)
(3.28,0.001)(3.33,0.002)(3.38,0.0)(3.43,0.002)(3.48,0.001)(3.53,0.0)(3.58,0.002)(3.63,0.001)(3.68,0.0)
(1.22,0.125)(1.27,0.26)(1.34,0.28)(1.41,0.3)(1.47,0.205)(1.52,0.235)(1.57,0.255)(1.62,0.27)(1.67,0.225)(1.73,0.245)
(1.78,0.205)(1.82,0.225)(1.87,0.2)(1.93,0.19)(1.97,0.165)(2.02,0.175)(2.07,0.14)(2.12,0.125)(2.17,0.11)(2.22,0.12)
(2.27,0.065)(2.32,0.095)(2.37,0.08)(2.42,0.06)(2.47,0.045)(2.52,0.05)(2.57,0.03)(2.62,0.06)(2.67,0.025)(2.72,0.045)
(2.77,0.02)(2.82,0.03)(2.87,0.015)(2.92,0.035)(2.97,0.01)(3.02,0.02)(1.46,0.06)(1.36,0.09)(1.56,0.07)
};
\addlegendentry{7}
\end{axis}

\begin{axis}[panel, at={(897.3pt,-632.3pt)}, width=363pt, xmin=4.28, xmax=6.589,
  xtick={4.5,5,5.5,6,6.5}, xticklabels={4.5,5.0,5.5,6.0,6.5},
  title={(iii) ResNet,\ \ Pixel Value: 3}]
\labtitle
\addplot[blu] coordinates {
(5.38,0.372)(5.08,0.111)(5.23,0.04)(5.28,0.01)(5.37,0.01)(5.39,0.0)(5.55,0.03)(5.8,0.03)(6.03,0.018)(6.08,0.016)
(6.24,0.05)(5.47,0.003)(5.5,0.0)(5.53,0.002)(5.56,0.0)(5.6,0.001)(5.62,0.003)(5.64,0.0)
(5.7,0.001)(5.72,0.0)(5.74,0.002)(5.76,0.0)(5.78,0.001)(5.8,0.003)(5.82,0.0)(5.84,0.001)(5.86,0.0)(5.88,0.002)
(5.9,0.001)(5.92,0.0)(5.94,0.002)(5.96,0.001)(5.98,0.0)(6.0,0.001)(6.02,0.003)(6.04,0.0)(6.06,0.001)(6.08,0.0)
(6.1,0.002)(6.12,0.001)(6.14,0.0)(6.16,0.002)(6.18,0.001)(6.2,0.0)(6.22,0.001)(6.24,0.003)(6.26,0.0)(6.28,0.001)
(6.3,0.0)(6.32,0.002)(6.34,0.001)(6.36,0.0)(6.38,0.001)(6.4,0.0)(6.42,0.001)(6.44,0.0)(6.46,0.001)(6.48,0.0)(6.49,0.001)
(5.71,0.002)(5.73,0.0)(5.75,0.001)(5.77,0.003)(5.79,0)(5.81,0.001)(5.83,0.002)(5.85,0)(5.87,0.001)(5.89,0.003)
(5.91,0)(5.93,0.001)(5.95,0.002)(5.97,0)(5.99,0.001)(6.01,0.003)(6.03,0)(6.05,0.001)(6.07,0.002)(6.09,0)
(6.11,0.001)(6.13,0.003)(6.15,0)(6.17,0.001)(6.19,0.002)(6.21,0)(6.23,0.001)(6.25,0.003)(6.27,0)(6.29,0.001)
(6.31,0.002)(6.33,0)(6.35,0.001)(6.37,0.003)(6.39,0)(6.41,0.001)(6.43,0.002)(6.45,0)(6.47,0.001)
};
\addlegendentry{0}
\addplot[org] coordinates {
(5.1,0.824)(5.19,0.561)(4.99,0.453)(4.8,0.307)(4.79,0.282)(5.07,0.308)(5.08,0.192)(5.1,0.14)(4.77,0.128)(4.85,0.111)
(5.08,0.105)(4.4,0.043)(4.53,0.04)(4.58,0.043)(4.49,0.022)(4.78,0.042)(4.9,0.026)(4.96,0.02)(5.32,0.0)(4.7,0.015)(5.05,0.012)
(4.38,0.004)(4.4,0.008)(4.42,0.002)(4.44,0.006)(4.46,0.0)(4.48,0.01)(4.5,0.003)(4.52,0.007)(4.54,0.0)(4.56,0.005)
(4.58,0.002)(4.6,0.009)(4.62,0.001)(4.64,0.006)(4.66,0.0)(4.68,0.004)(4.7,0.002)(4.72,0.008)(4.74,0.0)(4.76,0.005)
(4.78,0.001)(4.8,0.007)(4.82,0.0)(4.84,0.004)(4.86,0.002)(4.88,0.006)(4.9,0.0)(4.92,0.005)(4.94,0.001)(4.96,0.008)
(4.98,0.0)(5.0,0.004)(5.02,0.002)(5.04,0.006)(5.06,0.0)(5.08,0.005)(5.1,0.001)(5.12,0.004)(5.14,0.0)(5.16,0.003)
(5.18,0.001)(5.2,0.004)(5.22,0.0)(5.24,0.002)(5.26,0.001)(5.28,0.0)(5.3,0.001)
(4.45,0.002)(4.47,0.005)(4.49,0)(4.51,0.004)(4.53,0.001)(4.55,0.006)(4.57,0)(4.59,0.003)(4.61,0.005)(4.63,0)
(4.65,0.003)(4.67,0.006)(4.69,0)(4.71,0.004)(4.73,0.002)(4.75,0.006)(4.77,0)(4.79,0.003)(4.81,0.005)(4.83,0)
(4.85,0.004)(4.87,0.001)(4.89,0.006)(4.91,0)(4.93,0.003)(4.95,0.005)(4.97,0)(4.99,0.004)(5.01,0.001)(5.03,0.005)
(5.05,0)(5.07,0.003)(5.09,0.006)(5.11,0)(5.13,0.003)(5.15,0.001)(5.17,0.004)(5.19,0)(5.21,0.002)(5.23,0.001)(5.25,0)
};
\addlegendentry{7}
\end{axis}

\node[font=\calib\fontsize{24.5}{28}\selectfont] at (656pt,-338pt) {(a)};
\node[font=\calib\fontsize{24.5}{28}\selectfont] at (657pt,-693pt) {(b)};
\end{tikzpicture}
\end{document}
